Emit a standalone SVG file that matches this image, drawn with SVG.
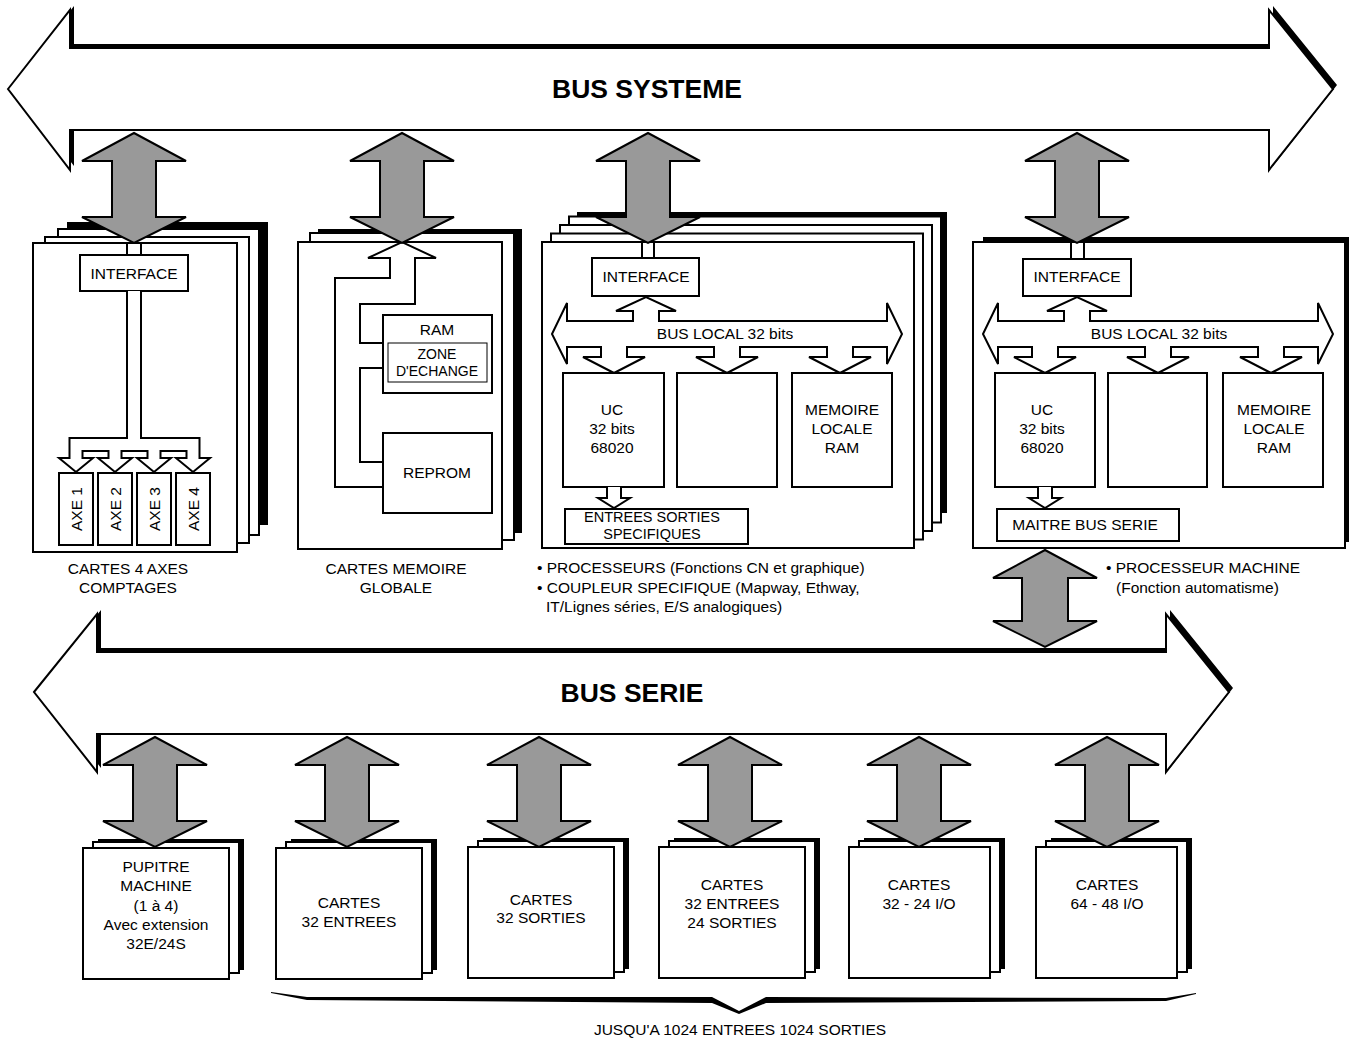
<svg xmlns="http://www.w3.org/2000/svg" width="1359" height="1041" viewBox="0 0 1359 1041">
<style>
.bus{fill:#fff;stroke:#000;stroke-width:2;stroke-linejoin:miter}
.sh{fill:#000}
.card{fill:#fff;stroke:#000;stroke-width:2}
.box{fill:#fff;stroke:#000;stroke-width:2}
.thin{fill:#fff;stroke:#000;stroke-width:1}
.ch{fill:#fff;stroke:#000;stroke-width:2;stroke-linejoin:miter}
.ln{fill:none;stroke:#000;stroke-width:2}
.ga{fill:#999;stroke:#000;stroke-width:2;stroke-linejoin:miter}
text{font-family:"Liberation Sans",Arial,Helvetica,sans-serif;font-size:15.5px;fill:#000}
.c{text-anchor:middle}
.s{text-anchor:start}
.b{font-weight:bold;font-size:26.5px;text-anchor:middle}
.z{font-size:14px;text-anchor:middle}
.e{font-size:14.5px;text-anchor:middle}
</style>
<defs>
<path id="garr" d="M0,0 L52,28 L22,28 L22,84 L52,84 L0,110 L-52,84 L-22,84 L-22,28 L-52,28 Z"/>
<path id="garrS" d="M0,0 L52,28 L23,28 L23,71 L52,71 L0,97 L-52,71 L-23,71 L-23,28 L-52,28 Z"/>
</defs>
<rect width="1359" height="1041" fill="#fff"/>

<!-- BUS SYSTEME -->
<g id="bus-systeme">
<path class="sh" transform="translate(4,-4)" d="M8,89 L70,10 L70,48 L1269,48 L1269,10 L1333,89 L1269,170 L1269,130 L70,130 L70,170 Z"/>
<path class="bus" d="M8,89 L70,10 L70,48 L1269,48 L1269,10 L1333,89 L1269,170 L1269,130 L70,130 L70,170 Z"/>
<text class="b" x="647" y="98">BUS SYSTEME</text>
</g>

<!-- BUS SERIE -->
<g id="bus-serie">
<path class="sh" transform="translate(4,-4)" d="M34,692 L97,614 L97,652 L1166,652 L1166,614 L1229,692 L1166,772 L1166,734 L97,734 L97,772 Z"/>
<path class="bus" d="M34,692 L97,614 L97,652 L1166,652 L1166,614 L1229,692 L1166,772 L1166,734 L97,734 L97,772 Z"/>
<text class="b" x="632" y="702">BUS SERIE</text>
</g>

<!-- Board 1: CARTES 4 AXES -->
<g id="cartes-4-axes">
<rect class="sh" x="67" y="222" width="201" height="303"/>
<rect class="card" x="58" y="229" width="201" height="306"/>
<rect class="card" x="45" y="237" width="204" height="306"/>
<rect class="card" x="33" y="243" width="204" height="309"/>
<path class="ln" d="M127,243 L127,255 M141,243 L141,255"/>
<rect class="box" x="80" y="255" width="108" height="36"/>
<text class="c" x="134" y="279">INTERFACE</text>
<path class="ch" d="M127,291 L127,438 L69.5,438 L69.5,458 L59,458 L76,472 L93,458 L82.5,458 L82.5,451 L108.5,451 L108.5,458 L98,458 L115,472 L132,458 L121.5,458 L121.5,451 L147.5,451 L147.5,458 L137,458 L154,472 L171,458 L160.5,458 L160.5,451 L186.5,451 L186.5,458 L176,458 L193,472 L210,458 L199.5,458 L199.5,438 L141,438 L141,291"/>
<rect class="box" x="59" y="473" width="34" height="72"/>
<rect class="box" x="98" y="473" width="34" height="72"/>
<rect class="box" x="137" y="473" width="34" height="72"/>
<rect class="box" x="176" y="473" width="34" height="72"/>
<text class="c" transform="translate(81.5,509) rotate(-90)">AXE 1</text>
<text class="c" transform="translate(120.5,509) rotate(-90)">AXE 2</text>
<text class="c" transform="translate(159.5,509) rotate(-90)">AXE 3</text>
<text class="c" transform="translate(198.5,509) rotate(-90)">AXE 4</text>
<text class="c" x="128" y="574">CARTES 4 AXES</text>
<text class="c" x="128" y="593">COMPTAGES</text>
</g>

<!-- Board 2: CARTES MEMOIRE GLOBALE -->
<g id="cartes-memoire">
<rect class="sh" x="318" y="229" width="204" height="304"/>
<rect class="card" x="310" y="233" width="204" height="307"/>
<rect class="card" x="298" y="242" width="204" height="307"/>
<path class="ch" d="M383,487 L335,487 L335,278 L390,278 L390,258 L368,258 L402,242 L436,258 L415,258 L415,304 L360,304 L360,343 L383,343"/>
<path class="ln" d="M383,368 L360,368 L360,462 L383,462"/>
<rect class="box" x="383" y="315" width="109" height="78"/>
<text class="c" x="437" y="335">RAM</text>
<rect class="thin" x="388" y="343" width="99" height="39"/>
<text class="z" x="437" y="359">ZONE</text>
<text class="z" x="437" y="376">D'ECHANGE</text>
<rect class="box" x="383" y="433" width="109" height="80"/>
<text class="c" x="437" y="478">REPROM</text>
<text class="c" x="396" y="574">CARTES MEMOIRE</text>
<text class="c" x="396" y="593">GLOBALE</text>
</g>

<!-- Board 3: PROCESSEURS -->
<g id="processeurs">
<rect class="sh" x="577" y="212" width="370" height="301"/>
<rect class="card" x="569" y="216.5" width="372" height="306"/>
<rect class="card" x="560" y="225" width="372" height="306"/>
<rect class="card" x="551" y="233.5" width="372" height="306"/>
<rect class="card" x="542" y="242" width="372" height="306"/>
<path class="ln" d="M642,243 L642,258 M654,243 L654,258"/>
<rect class="box" x="592" y="258" width="107" height="38"/>
<text class="c" x="646" y="282">INTERFACE</text>
<path class="ch" d="M552,334 L567,303 L567,321 L633,321 L633,311 L616,311 L646,297 L676,311 L659,311 L659,321 L887,321 L887,303 L902,334 L887,364 L887,347 L853,347 L853,357 L871,357 L840,373 L809,357 L827,357 L827,347 L740,347 L740,357 L758,357 L727,373 L696,357 L714,357 L714,347 L627,347 L627,357 L645,357 L614,373 L583,357 L601,357 L601,347 L567,347 L567,364 Z"/>
<text class="c" x="725" y="339">BUS LOCAL 32 bits</text>
<rect class="box" x="563" y="373" width="101" height="114"/>
<rect class="box" x="677" y="373" width="100" height="114"/>
<rect class="box" x="792" y="373" width="100" height="114"/>
<text class="c" x="612" y="415">UC</text>
<text class="c" x="612" y="434">32 bits</text>
<text class="c" x="612" y="453">68020</text>
<text class="c" x="842" y="415">MEMOIRE</text>
<text class="c" x="842" y="434">LOCALE</text>
<text class="c" x="842" y="453">RAM</text>
<path class="ch" d="M607,487 L607,498 L598,498 L614,508 L630,498 L621,498 L621,487"/>
<rect class="box" x="565" y="509" width="183" height="35"/>
<text class="e" x="652" y="522">ENTREES SORTIES</text>
<text class="e" x="652" y="539">SPECIFIQUES</text>
<text class="s" x="537" y="573">• PROCESSEURS (Fonctions CN et graphique)</text>
<text class="s" x="537" y="593">• COUPLEUR SPECIFIQUE (Mapway, Ethway,</text>
<text class="s" x="546" y="612">IT/Lignes séries, E/S analogiques)</text>
</g>

<!-- Board 4: PROCESSEUR MACHINE -->
<g id="processeur-machine">
<rect class="sh" x="983" y="237" width="366" height="305"/>
<rect class="card" x="973" y="242" width="372" height="306"/>
<path class="ln" d="M1071,243 L1071,259 M1084,243 L1084,259"/>
<rect class="box" x="1023" y="259" width="108" height="37"/>
<text class="c" x="1077" y="282">INTERFACE</text>
<path class="ch" transform="translate(431,0)" d="M552,334 L567,303 L567,321 L633,321 L633,311 L616,311 L646,297 L676,311 L659,311 L659,321 L887,321 L887,303 L902,334 L887,364 L887,347 L853,347 L853,357 L871,357 L840,373 L809,357 L827,357 L827,347 L740,347 L740,357 L758,357 L727,373 L696,357 L714,357 L714,347 L627,347 L627,357 L645,357 L614,373 L583,357 L601,357 L601,347 L567,347 L567,364 Z"/>
<text class="c" x="1159" y="339">BUS LOCAL 32 bits</text>
<rect class="box" x="995" y="373" width="100" height="114"/>
<rect class="box" x="1108" y="373" width="99" height="114"/>
<rect class="box" x="1223" y="373" width="100" height="114"/>
<text class="c" x="1042" y="415">UC</text>
<text class="c" x="1042" y="434">32 bits</text>
<text class="c" x="1042" y="453">68020</text>
<text class="c" x="1274" y="415">MEMOIRE</text>
<text class="c" x="1274" y="434">LOCALE</text>
<text class="c" x="1274" y="453">RAM</text>
<path class="ch" d="M1038,487 L1038,498 L1029,498 L1045,508 L1061,498 L1052,498 L1052,487"/>
<rect class="box" x="997" y="509" width="182" height="32"/>
<text class="c" x="1085" y="530">MAITRE BUS SERIE</text>
<text class="s" x="1106" y="573">• PROCESSEUR MACHINE</text>
<text class="s" x="1116" y="593">(Fonction automatisme)</text>
</g>

<!-- Bottom cards -->
<g id="pupitre">
<rect class="sh" x="98" y="839" width="146" height="131"/>
<rect class="card" x="93" y="842" width="146" height="131"/>
<rect class="card" x="83" y="848" width="146" height="131"/>
<text class="c" x="156" y="872">PUPITRE</text>
<text class="c" x="156" y="891">MACHINE</text>
<text class="c" x="156" y="911">(1 à 4)</text>
<text class="c" x="156" y="930">Avec extension</text>
<text class="c" x="156" y="949">32E/24S</text>
</g>
<g id="cartes-32e">
<rect class="sh" x="291" y="839" width="146" height="131"/>
<rect class="card" x="286" y="842" width="146" height="131"/>
<rect class="card" x="276" y="848" width="146" height="131"/>
<text class="c" x="349" y="908">CARTES</text>
<text class="c" x="349" y="927">32 ENTREES</text>
</g>
<g id="cartes-32s">
<rect class="sh" x="483" y="838" width="146" height="131"/>
<rect class="card" x="478" y="841" width="146" height="131"/>
<rect class="card" x="468" y="847" width="146" height="131"/>
<text class="c" x="541" y="905">CARTES</text>
<text class="c" x="541" y="923">32 SORTIES</text>
</g>
<g id="cartes-32e-24s">
<rect class="sh" x="674" y="838" width="146" height="131"/>
<rect class="card" x="669" y="841" width="146" height="131"/>
<rect class="card" x="659" y="847" width="146" height="131"/>
<text class="c" x="732" y="890">CARTES</text>
<text class="c" x="732" y="909">32 ENTREES</text>
<text class="c" x="732" y="928">24 SORTIES</text>
</g>
<g id="cartes-32-24">
<rect class="sh" x="864" y="838" width="141" height="131"/>
<rect class="card" x="859" y="841" width="141" height="131"/>
<rect class="card" x="849" y="847" width="141" height="131"/>
<text class="c" x="919" y="890">CARTES</text>
<text class="c" x="919" y="909">32 - 24 I/O</text>
</g>
<g id="cartes-64-48">
<rect class="sh" x="1051" y="838" width="141" height="131"/>
<rect class="card" x="1046" y="841" width="141" height="131"/>
<rect class="card" x="1036" y="847" width="141" height="131"/>
<text class="c" x="1107" y="890">CARTES</text>
<text class="c" x="1107" y="909">64 - 48 I/O</text>
</g>

<!-- Brace and total -->
<g id="total">
<path class="sh" d="M271,992 L307,997 L712,997 L739,1011 L766,997 L1166,998 L1196,993 L1196,994 L1166,1001 L766,1003 L739,1014 L712,1003 L307,1000 L271,993 Z"/>
<text class="c" x="740" y="1035">JUSQU'A 1024 ENTREES 1024 SORTIES</text>
</g>

<!-- Connectors -->
<g id="connectors">
<use href="#garr" class="ga" x="134" y="133"/>
<use href="#garr" class="ga" x="402" y="133"/>
<use href="#garr" class="ga" x="648" y="133"/>
<use href="#garr" class="ga" x="1077" y="133"/>
<use href="#garrS" class="ga" x="1045" y="550"/>
<use href="#garr" class="ga" x="155" y="737"/>
<use href="#garr" class="ga" x="347" y="737"/>
<use href="#garr" class="ga" x="539" y="737"/>
<use href="#garr" class="ga" x="730" y="737"/>
<use href="#garr" class="ga" x="919" y="737"/>
<use href="#garr" class="ga" x="1107" y="737"/>
</g>
</svg>
